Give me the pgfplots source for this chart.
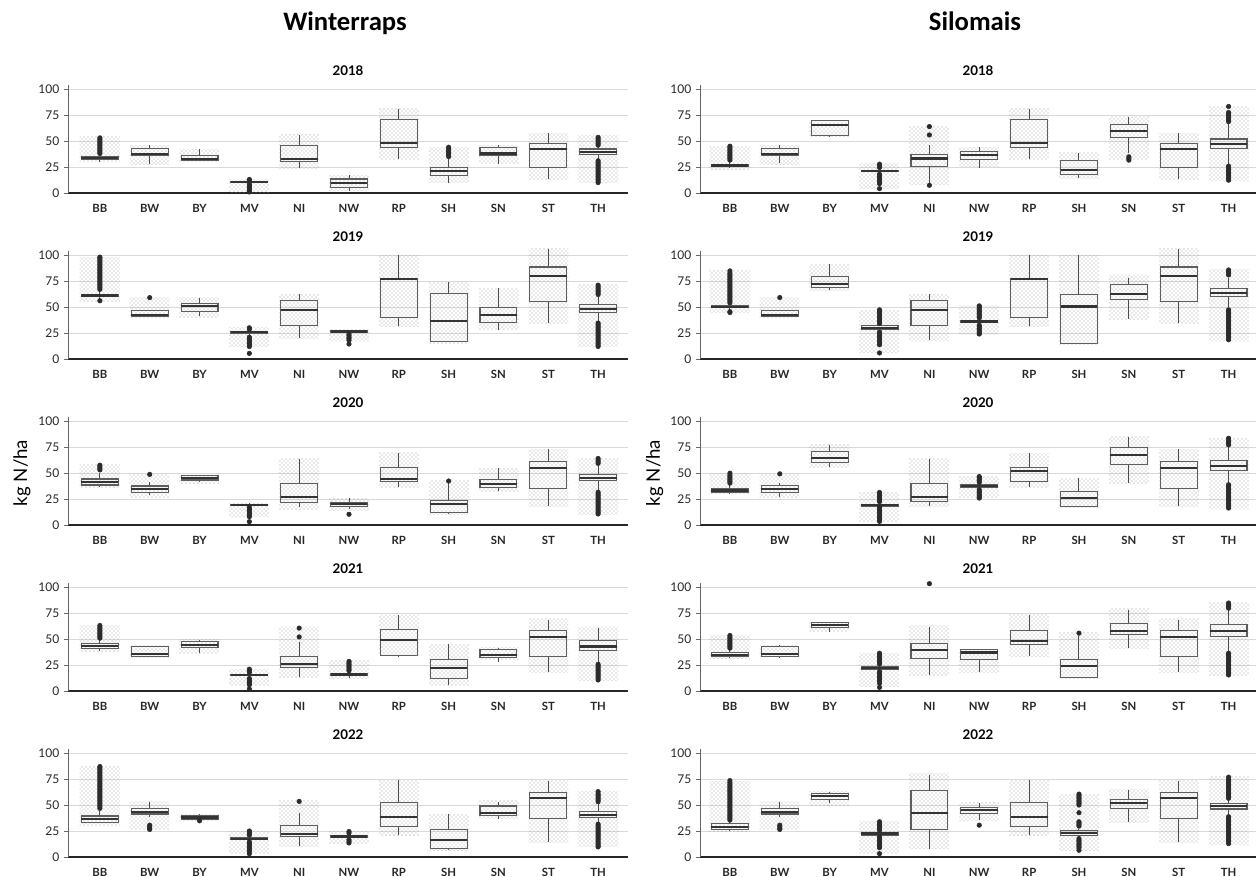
\documentclass[border=0pt]{standalone}
\usepackage{fontspec}
\setmainfont{Lato}
\newfontfamily\titlefont{Carlito}
\usepackage{pgfplots}
\pgfplotsset{compat=1.18}
\usepgfplotslibrary{statistics}
\usetikzlibrary{patterns}
\definecolor{gridc}{HTML}{D9D9D9}
\definecolor{boxedge}{HTML}{5E5E5E}
\definecolor{medc}{HTML}{333333}
\definecolor{whisk}{HTML}{4A4A4A}
\definecolor{outc}{HTML}{2B2B2B}
\definecolor{jit}{HTML}{A0A0A0}
\definecolor{axc}{HTML}{666666}

\pgfplotsset{
  panel/.style={
    scale only axis, height=81.1pt, anchor=south west,
    ymin=0, ymax=104, ytick={0,25,50,75,100},
    xtick={0,...,10}, xticklabels={BB,BW,BY,MV,NI,NW,RP,SH,SN,ST,TH},
    axis x line*=bottom, axis y line*=left,
    ymajorgrids, grid style={gridc, line width=0.6pt},
    x axis line style={black!85, line width=1.1pt},
    y axis line style={axc, line width=0.6pt},
    ytick style={axc, line width=0.6pt},
    xtick style={draw=none},
    major tick length=3pt, tick align=outside,
    /pgf/number format/assume math mode=true,
    yticklabel style={font=\fontsize{9}{10}\selectfont, text=black!85},
    xticklabel style={font=\bfseries\fontsize{8.5}{10}\selectfont, text=black!85, yshift=-1.75pt},
    title style={font=\bfseries\fontsize{10}{12}\selectfont, at={(0.5,1)}, anchor=south, yshift=-2.75pt},
    clip=false,
  },
  leftpanel/.style={panel, width=420pt, xmin=-0.64, xmax=10.6, at={(51pt,#1)}},
  rightpanel/.style={panel, width=417pt, xmin=-0.6, xmax=10.55, at={(525pt,#1)}},
  band/.style={draw=none, draw opacity=0, pattern=crosshatch dots, pattern color=jit, mark=none,
    boxplot/draw direction=y,
    boxplot/box extend=0.8,
    boxplot/every box/.style={draw=none, draw opacity=0},
    boxplot/every median/.style={draw=none, draw opacity=0},
    boxplot/every whisker/.style={draw=none, draw opacity=0}},
  bxs/.style={draw=boxedge, line width=0.85pt, mark=none,
    boxplot/draw direction=y,
    boxplot/box extend=0.74, boxplot/whisker extend=0,
    boxplot/every median/.style={draw=medc, line width=1.6pt},
    boxplot/every whisker/.style={draw=whisk, line width=0.75pt}},
  outl/.style={only marks, mark=*, mark size=1.7pt, mark options={draw=outc, fill=outc}},
}

% pos, lower whisker, q1, median, q3, upper whisker, outliers, point-cloud min, point-cloud max
\newcommand{\bx}[9]{%
  \addplot[band, boxplot prepared={draw position=#1, lower whisker=#8, lower quartile=#8,
    median=#8, upper quartile=#9, upper whisker=#9}] coordinates {};
  \addplot[bxs, boxplot prepared={draw position=#1, lower whisker=#2, lower quartile=#3,
    median=#4, upper quartile=#5, upper whisker=#6}] coordinates {};
  \def\tmpa{#7}%
  \ifx\tmpa\empty\else
    \gdef\olist{}%
    \foreach \v in {#7}{\xdef\olist{\olist (#1,\v)}}%
    \edef\doplot{\noexpand\addplot[outl] coordinates {\olist};}\doplot
  \fi
}

\begin{document}
\begin{tikzpicture}
\path[use as bounding box] (0,0) rectangle (942pt,657.75pt);

\node[font=\titlefont\bfseries\fontsize{20}{24}\selectfont, anchor=base] at (258.75pt,634.5pt) {Winterraps};
\node[font=\titlefont\bfseries\fontsize{20}{24}\selectfont, anchor=base] at (731.25pt,634.5pt) {Silomais};
\node[rotate=90, font=\fontsize{14}{16}\selectfont] at (16.5pt,303pt) {kg N/ha};
\node[rotate=90, font=\fontsize{14}{16}\selectfont] at (491pt,303pt) {kg N/ha};

% ---------------- Winterraps 2018
\begin{axis}[leftpanel=513pt, title={2018}]
\bx{0}{30}{32}{33.5}{35}{37}{38,39.5,41,42.5,44,45.5,47,48.5,50,51.5,53}{30}{54}
\bx{1}{28}{36.5}{37.5}{43}{46}{}{27}{46}
\bx{2}{31}{31}{33}{36}{42}{}{30}{42}
\bx{3}{9}{10}{10.5}{11}{11.5}{13,12.3,8.5,7,5.5,4,2.5,1}{0.5}{13}
\bx{4}{24}{30}{32.3}{46}{56}{}{24}{56}
\bx{5}{2}{5.5}{10}{13.5}{17}{}{2}{17}
\bx{6}{32.5}{44}{47.7}{70.3}{80.6}{}{32}{81}
\bx{7}{9.7}{17}{21}{24.5}{33}{35,36.5,38,39.5,41,42.5,44}{10}{44}
\bx{8}{28}{36.5}{38}{44}{46}{}{28}{46}
\bx{9}{13}{24.5}{42.3}{47.7}{57.4}{}{13}{57}
\bx{10}{32}{37}{39.7}{42.3}{44.5}{46,47.5,49,50.5,52,53.5,31,29.5,28,26.5,25,23.5,22,20.5,19,17.5,16,14.5,13,11.5,10}{10}{55}
\end{axis}

% ---------------- Winterraps 2019
\begin{axis}[leftpanel=388.5pt, title={2019}]
\bx{0}{57}{59.7}{61}{62.3}{65}{67,68.5,70,71.5,73,74.5,76,77.5,79,80.5,82,83.5,85,86.5,88,89.5,91,92.5,94,95.5,97,98,56}{55}{98}
\bx{1}{40.5}{41}{42}{46.3}{47}{59}{40}{59}
\bx{2}{41.5}{45.7}{51.1}{53.7}{59}{}{40}{59}
\bx{3}{22}{24.9}{25.6}{25.9}{27}{28.5,30,21,19.5,18,16.5,15,13.5,12,5.4}{12}{30}
\bx{4}{20}{32.3}{47.3}{56.2}{62.3}{}{20}{62}
\bx{5}{24.5}{25.6}{26.5}{27.2}{28}{24,22.5,21,19.5,18,14.4}{18}{28}
\bx{6}{31.3}{39.9}{76.7}{77.6}{100}{}{31}{100}
\bx{7}{16}{16.9}{36.7}{63.3}{74.4}{}{15}{74}
\bx{8}{28}{35.5}{42.2}{49.8}{68}{}{28}{68}
\bx{9}{34.5}{55.3}{79.9}{88.5}{106}{}{34}{106}
\bx{10}{36}{44.7}{47.9}{52}{60}{62,63.5,65,66.5,68,69.5,71,34.5,33,31.5,30,28.5,27,25.5,24,22.5,21,19.5,18,16.5,15,13.5,12}{12}{72}
\end{axis}

% ---------------- Winterraps 2020
\begin{axis}[leftpanel=264pt, title={2020}]
\bx{0}{37}{38.5}{41.7}{44.2}{50}{53,54.5,56,57.5}{36}{58}
\bx{1}{28.8}{31.1}{34.6}{37.5}{41.7}{48.7}{26}{49}
\bx{2}{41.7}{43.3}{45.5}{47.4}{48}{}{40}{48}
\bx{3}{18}{18.6}{19.2}{19.6}{21}{17,15.5,14,12.5,11,9.5,8,3.2}{8}{21}
\bx{4}{17}{21.8}{26.6}{40.1}{63.5}{}{15}{64}
\bx{5}{15}{17.6}{19.9}{21.5}{25.6}{10.3}{14}{25}
\bx{6}{36.2}{41.7}{43.9}{55.4}{69.6}{}{36}{70}
\bx{7}{10.6}{12.2}{19.9}{23.4}{40.5}{42.3}{10}{43}
\bx{8}{32.7}{36.2}{39.7}{43.9}{54.5}{}{32}{54}
\bx{9}{18.3}{35.3}{54.8}{60.9}{73}{}{18}{73}
\bx{10}{33}{42.6}{45.5}{48.7}{58}{59.3,60.8,62.3,64,31.5,30,28.5,27,25.5,24,22.5,21,19.5,18,16.5,15,13.5,12,10.6}{10}{64}
\end{axis}

% ---------------- Winterraps 2021
\begin{axis}[leftpanel=139.5pt, title={2021}]
\bx{0}{38.6}{41.2}{43.4}{45.3}{49}{50.8,52.3,53.8,55.3,56.8,58.3,59.8,61.3,63}{38}{63}
\bx{1}{32.5}{33.4}{35.4}{42.8}{43.5}{}{32}{44}
\bx{2}{37}{41.8}{43.9}{47.6}{49}{}{36}{50}
\bx{3}{13.5}{14.5}{15.1}{15.4}{16.5}{18,19.5,21,12,10.5,9,7.5,6,1.9}{5}{21}
\bx{4}{13.8}{22.5}{26}{33.1}{47.6}{52,60.5}{13}{61}
\bx{5}{12.2}{14.5}{15.8}{17}{18}{19.5,21,22.5,24,25.5,27,28.5}{12}{29}
\bx{6}{34}{34.1}{49.2}{58.8}{73.3}{}{34}{73}
\bx{7}{5.8}{12.2}{22}{30.5}{45}{}{5}{45}
\bx{8}{27.7}{32.5}{34.7}{39.5}{41.8}{}{30}{42}
\bx{9}{18}{33.1}{51.8}{57.9}{68.5}{}{18}{70}
\bx{10}{27}{38.9}{42.8}{48.9}{60.5}{25.7,24.2,22.7,21.2,19.7,18.2,16.7,15.2,13.7,12.2,10.6}{10}{61}
\end{axis}

% ---------------- Winterraps 2022
\begin{axis}[leftpanel=15pt, title={2022}]
\bx{0}{33}{33.5}{36.8}{39.4}{44}{46.8,48.3,49.8,51.3,52.8,54.3,55.8,57.3,58.8,60.3,61.8,63.3,64.8,66.3,67.8,69.3,70.8,72.3,73.8,75.3,76.8,78.3,79.8,81.3,82.8,84.3,85.8,87}{30}{87}
\bx{1}{38.7}{41.3}{43.5}{46.8}{53.2}{30.6,29,27.5,26.5}{26}{53}
\bx{2}{35.5}{36.5}{38}{39.4}{41.3}{34.8}{35}{41}
\bx{3}{16}{17.1}{17.7}{18.4}{19.5}{21,22.5,24,25,14.5,13,11.5,10,8.5,7,5.5,3.2}{3}{25}
\bx{4}{10.3}{19.4}{21.9}{30}{42}{53.5}{10}{54}
\bx{5}{18}{19}{19.7}{20.3}{21.5}{23,24.5,16.5,15,13.5}{13}{25}
\bx{6}{21.6}{29.7}{38.7}{52.6}{74.2}{}{21}{74}
\bx{7}{6.5}{8}{16.1}{26.5}{41.3}{}{6}{41}
\bx{8}{37}{40.3}{41.9}{49}{53.2}{}{37}{54}
\bx{9}{14.5}{37}{57.1}{62}{73.5}{}{14}{74}
\bx{10}{33}{37.7}{40.3}{43.5}{52}{53.2,54.7,56.2,57.7,59.2,60.7,62.9,31.6,30.1,28.6,27.1,25.6,24.1,22.6,21.1,19.6,18.1,16.6,15.1,13.6,12.1,10.6,9.7}{10}{63}
\end{axis}

% ---------------- Silomais 2018
\begin{axis}[rightpanel=513pt, title={2018}]
\bx{0}{24}{25.2}{26.5}{27.7}{29.5}{31.6,33.1,34.6,36.1,37.6,39.1,40.6,42.1,43.6,45}{23}{45}
\bx{1}{28.4}{35.8}{37.1}{42.9}{46}{}{27}{46}
\bx{2}{54}{55.5}{65.5}{69.5}{70}{}{54}{70}
\bx{3}{19.5}{20.6}{21.3}{21.9}{23}{24.5,26,27.7,18,16.5,15,13.5,12,10.5,9,4.2}{4}{28}
\bx{4}{9}{25.2}{33.2}{37.4}{46}{55.8,63.9,7.4}{8}{64}
\bx{5}{24.5}{32.6}{36.5}{39.7}{43.9}{}{25}{44}
\bx{6}{32.5}{44}{47.7}{70.3}{80.6}{}{32}{81}
\bx{7}{14.8}{18}{21.9}{31.6}{38.7}{}{14}{39}
\bx{8}{38}{53.5}{60}{65.5}{73.5}{31.6,33.2,34.8}{32}{74}
\bx{9}{13}{24.5}{42.3}{47.7}{57.4}{}{13}{57}
\bx{10}{28}{42.9}{47.1}{51.9}{66}{68.7,70.2,71.7,73.2,74.7,76.2,77.4,83.2,25.8,24.3,22.8,21.3,19.8,18.3,16.8,15.3,13.8,12.3}{12}{83}
\end{axis}

% ---------------- Silomais 2019
\begin{axis}[rightpanel=388.5pt, title={2019}]
\bx{0}{47}{49.5}{50.2}{51.1}{52.5}{54,55.5,57,58.5,60,61.5,63,64.5,66,67.5,69,70.5,72,73.5,75,76.5,78,79.5,81,82.5,84.7,45.5,44.7}{45}{85}
\bx{1}{40.5}{41}{42.5}{46.3}{47}{59.1}{40}{59}
\bx{2}{66.5}{69}{72}{79.2}{91.4}{}{66}{91}
\bx{3}{27}{28.1}{29.7}{31.9}{33}{34,35.5,37,38.5,40,41.5,43,44.5,46,47.3,25.9,24.4,22.9,21.4,19.9,18.4,16.9,15.4,13.7,5.8}{6}{47}
\bx{4}{18.5}{32.3}{47.3}{56.5}{62.3}{}{18}{62}
\bx{5}{34}{35.5}{36.1}{36.7}{38}{39.5,41,42.5,44,45.5,47,48.5,50,51.1,32.5,31,29.5,28,26.5,25,24}{24}{51}
\bx{6}{31.3}{39.9}{76.7}{77.6}{100}{}{31}{100}
\bx{7}{14.4}{15.3}{50.5}{62.3}{100}{}{14}{100}
\bx{8}{38.7}{56.9}{62.3}{71.9}{78.3}{}{38}{80}
\bx{9}{34.5}{55.3}{79.9}{88.5}{106}{}{34}{106}
\bx{10}{50}{60}{63.3}{68}{78}{80.8,82.4,84,85.6,47.3,45.8,44.3,42.8,41.3,39.8,38.3,36.8,35.3,33.8,32.3,30.8,29.3,27.8,26.3,24.8,23.3,21.8,20.3,18.5}{18}{86}
\end{axis}

% ---------------- Silomais 2020
\begin{axis}[rightpanel=264pt, title={2020}]
\bx{0}{30}{31.6}{33.2}{35.5}{38}{40.3,41.8,43.3,44.8,46.3,47.8,49.8}{30}{50}
\bx{1}{26.8}{31.6}{34.5}{37.7}{40}{49.2}{26}{49}
\bx{2}{55.6}{60}{64.2}{70.6}{77}{}{55}{77}
\bx{3}{17.5}{18.2}{19.2}{20.1}{21}{22.5,24,25.5,27,28.5,30,31.3,17,15.5,14,12.5,11,9.5,8,6.5,5.1,3.5}{3}{31}
\bx{4}{17.9}{22.7}{26.8}{40.3}{63.6}{}{18}{64}
\bx{5}{35.5}{36.4}{37.7}{38.7}{39.5}{41,42.5,44,45.5,46.6,34,32.5,31,29.5,28,26.5,25.9}{26}{47}
\bx{6}{36.4}{41.9}{52}{55.6}{69}{}{36}{69}
\bx{7}{17.9}{17.9}{25.9}{32.3}{45}{}{17}{45}
\bx{8}{40.3}{57.8}{67.4}{74.4}{84.3}{}{40}{85}
\bx{9}{18.5}{35.5}{54.6}{61}{72.8}{}{18}{73}
\bx{10}{40}{52.4}{56.9}{62}{75}{77,78.5,80,81.5,83.4,38.7,37.2,35.7,34.2,32.7,31.2,29.7,28.2,26.7,25.2,23.7,22.2,20.7,19.2,17.7,16.3}{16}{83}
\end{axis}

% ---------------- Silomais 2021
\begin{axis}[rightpanel=139.5pt, title={2021}]
\bx{0}{31.5}{33.1}{34.7}{37}{40}{41.2,42.7,44.2,45.7,47.2,48.7,50.2,51.7,53.4}{31}{53}
\bx{1}{33}{33.1}{35.5}{43.1}{44}{}{33}{44}
\bx{2}{57.2}{61.4}{63.7}{65.9}{66}{}{57}{66}
\bx{3}{19.5}{20.9}{22.2}{23.5}{24.4}{25.9,27.4,28.9,30.4,31.9,33.4,34.9,36.3,18.6,17.1,15.6,14.1,12.6,11.1,9.6,7.4,3.5}{4}{36}
\bx{4}{15.4}{30.9}{39.5}{46}{62}{103.2}{15}{63}
\bx{5}{18.6}{30.5}{37}{39.5}{40}{}{18}{40}
\bx{6}{33.8}{45}{48.2}{57.9}{73.3}{}{33}{74}
\bx{7}{12.9}{12.9}{24.1}{30.5}{53}{55.6}{12}{56}
\bx{8}{41.8}{54}{57.9}{65.3}{78.1}{}{41}{79}
\bx{9}{18}{33.1}{51.8}{57.9}{68.5}{}{18}{70}
\bx{10}{37}{52.4}{57.9}{63.7}{78}{79.7,81.3,83,84.6,36.3,34.8,33.3,31.8,30.3,28.8,27.3,25.8,24.3,22.8,21.3,19.8,18.3,16.8,15.4}{15}{85}
\end{axis}

% ---------------- Silomais 2022
\begin{axis}[rightpanel=15pt, title={2022}]
\bx{0}{25.2}{26.5}{29}{32.3}{34}{35.5,37,38.5,40,41.5,43,44.5,46,47.5,49,50.5,52,53.5,55,56.5,58,59.5,61,62.5,64,65.5,67,68.5,70,71.5,73.5}{25}{73}
\bx{1}{38.7}{41.3}{43.5}{46.8}{53.2}{30.6,29,27.5,26.5}{26}{53}
\bx{2}{51.6}{55.5}{58.7}{61.3}{62.9}{}{50}{63}
\bx{3}{20}{21}{22.6}{23.2}{24.2}{25.7,27.2,28.7,30.2,31.7,33.9,19.4,17.9,16.4,14.9,13.4,11.9,10.4,8.9,3.2}{3}{34}
\bx{4}{8}{26.5}{41.9}{63.9}{79}{}{8}{80}
\bx{5}{35.5}{41.9}{45.2}{47.7}{51.6}{30.6}{35}{52}
\bx{6}{21.6}{29.7}{38.7}{52.6}{74.2}{}{21}{74}
\bx{7}{19}{20.3}{22.9}{25.2}{27}{29.7,31.2,32.7,33.9,42.6,50,51.5,53,54.5,56,57.5,59,60.5,17.7,16.2,14.7,13.2,11.7,10.2,8.7,6.5}{6}{60}
\bx{8}{33.9}{46.8}{52.3}{55.5}{64.5}{}{33}{65}
\bx{9}{14.5}{37}{57.1}{62}{73.5}{}{14}{74}
\bx{10}{39}{46.1}{49.4}{51.6}{55}{56.5,58,59.5,61,62.5,64,65.5,67,68.5,70,71.5,73,74.5,76.8,38.7,37.2,35.7,34.2,32.7,31.2,29.7,28.2,26.7,25.2,23.7,22.2,20.7,19.2,17.7,16.2,14.7,12.9}{12}{77}
\end{axis}
\end{tikzpicture}
\end{document}
